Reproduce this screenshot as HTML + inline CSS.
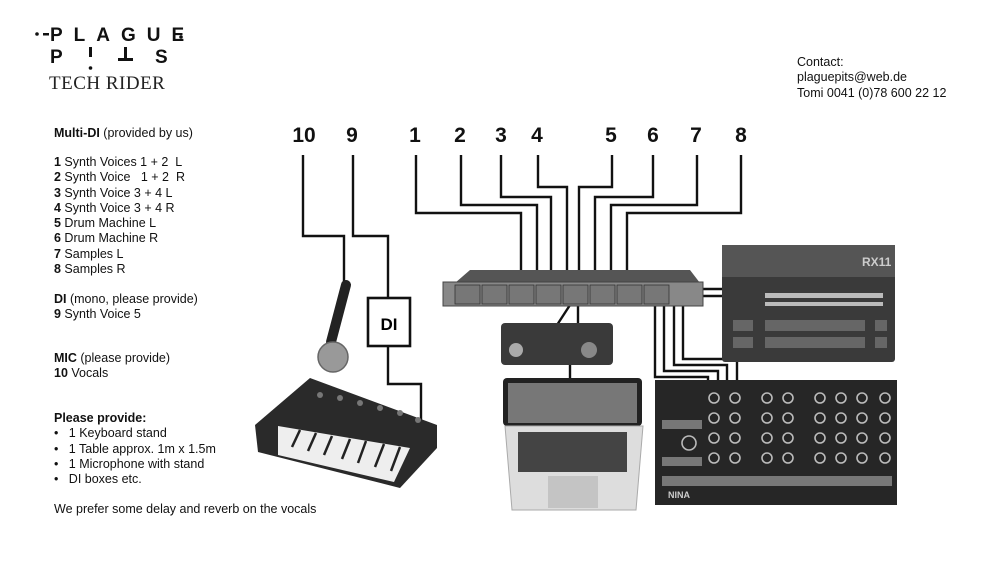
<!DOCTYPE html>
<html><head><meta charset="utf-8"><style>
body{margin:0;background:#fff;width:1000px;height:563px;overflow:hidden;position:relative;font-family:"Liberation Sans",Arial,sans-serif;color:#111}
.t{position:absolute;font-size:12.5px;line-height:15.3px;white-space:nowrap}
</style></head><body>
<svg width="1000" height="563" style="position:absolute;left:0;top:0" font-family="Liberation Sans, Arial, sans-serif">
<!-- logo -->
<g fill="#111" font-weight="bold" font-size="19">
<circle cx="37" cy="34" r="1.8"/><rect x="43" y="33" width="6" height="2.5"/>
<text x="50" y="41" letter-spacing="11">PLAGUE</text><circle cx="181" cy="37" r="1.8"/>
<text x="50" y="63" letter-spacing="0">P</text>
<rect x="89" y="47" width="3" height="10"/><circle cx="90.5" cy="68" r="1.8"/>
<rect x="124" y="47" width="3" height="14"/><rect x="118" y="58" width="15" height="3"/>
<text x="155" y="63">S</text>
</g>
<text x="49" y="89" font-family="Liberation Serif, serif" font-size="19" fill="#222" letter-spacing="0.5">TECH RIDER</text>
<!-- numbers -->
<g font-weight="bold" font-size="21" text-anchor="middle" fill="#111">
<text x="304" y="142">10</text><text x="352" y="142">9</text><text x="415" y="142">1</text><text x="460" y="142">2</text><text x="501" y="142">3</text><text x="537" y="142">4</text><text x="611" y="142">5</text><text x="653" y="142">6</text><text x="696" y="142">7</text><text x="741" y="142">8</text>
</g>
<g fill="none" stroke="#111" stroke-width="2.4">
<polyline points="416,155 416,213 521,213 521,270"/>
<polyline points="461,155 461,205 537,205 537,270"/>
<polyline points="501,155 501,197 551,197 551,270"/>
<polyline points="538,155 538,187 567,187 567,270"/>
<polyline points="612,155 612,187 579,187 579,270"/>
<polyline points="653,155 653,197 595,197 595,270"/>
<polyline points="697,155 697,205 611,205 611,270"/>
<polyline points="741,155 741,213 627,213 627,270"/>
<polyline points="303,155 303,236 344,236 344,285"/>
<polyline points="353,155 353,236 388,236 388,298"/>
<polyline points="388,346 388,384 421,384 421,420"/>
<line x1="570" y1="305" x2="557" y2="325"/><line x1="578" y1="305" x2="578" y2="325"/>
<line x1="570" y1="365" x2="570" y2="381"/>
<line x1="703" y1="289" x2="724" y2="289"/><line x1="703" y1="296" x2="724" y2="296"/>
<polyline points="655,306 655,377 708,377 708,384"/>
<polyline points="664,306 664,371 718,371 718,384"/>
<polyline points="674,306 674,365 727,365 727,384"/>
<polyline points="683,306 683,359 737,359 737,384"/>
</g>
<!-- DI -->
<rect x="368" y="298" width="42" height="48" fill="#fff" stroke="#111" stroke-width="2.6"/>
<text x="389" y="330" text-anchor="middle" font-weight="bold" font-size="17">DI</text>
<!-- mic -->
<line x1="346" y1="285" x2="331" y2="342" stroke="#222" stroke-width="10" stroke-linecap="round"/>
<circle cx="333" cy="357" r="15" fill="#999" stroke="#666" stroke-width="1.5"/>
<!-- keyboard -->
<polygon points="310,378 437,425 437,448 400,488 258,452 255,425" fill="#2a2a2a"/>
<polygon points="278,426 410,448 394,482 278,455" fill="#eee"/>
<g stroke="#222" stroke-width="2.5"><line x1="300" y1="430" x2="292" y2="447"/><line x1="316" y1="433" x2="308" y2="451"/><line x1="332" y1="436" x2="324" y2="455"/><line x1="350" y1="439" x2="342" y2="459"/><line x1="366" y1="441" x2="358" y2="463"/><line x1="384" y1="444" x2="375" y2="467"/><line x1="400" y1="447" x2="391" y2="471"/></g>
<g fill="#777"><circle cx="320" cy="395" r="3"/><circle cx="340" cy="398" r="3"/><circle cx="360" cy="403" r="3"/><circle cx="380" cy="408" r="3"/><circle cx="400" cy="413" r="3"/><circle cx="418" cy="420" r="3"/></g>
<!-- rack -->
<polygon points="455,283 470,270 690,270 700,283" fill="#555"/>
<rect x="443" y="282" width="260" height="24" fill="#888" stroke="#444"/>
<g fill="#777" stroke="#333" stroke-width="0.8">
<rect x="455" y="285" width="25" height="19"/><rect x="482" y="285" width="25" height="19"/><rect x="509" y="285" width="25" height="19"/><rect x="536" y="285" width="25" height="19"/><rect x="563" y="285" width="25" height="19"/><rect x="590" y="285" width="25" height="19"/><rect x="617" y="285" width="25" height="19"/><rect x="644" y="285" width="25" height="19"/></g>
<!-- interface -->
<rect x="501" y="323" width="112" height="42" rx="4" fill="#3a3a3a"/>
<circle cx="516" cy="350" r="7" fill="#aaa"/><circle cx="589" cy="350" r="8" fill="#888"/>
<!-- laptop -->
<rect x="503" y="378" width="139" height="48" rx="4" fill="#222"/>
<rect x="508" y="383" width="129" height="40" fill="#777"/>
<polygon points="505,426 643,426 636,510 512,510" fill="#ddd" stroke="#aaa"/>
<rect x="518" y="432" width="109" height="40" fill="#444"/>
<rect x="548" y="476" width="50" height="32" fill="#c4c4c4"/>
<!-- RX11 -->
<rect x="722" y="245" width="173" height="117" rx="3" fill="#3a3a3a"/>
<rect x="722" y="245" width="173" height="32" fill="#555"/>
<text x="862" y="266" font-size="12" font-weight="bold" fill="#ccc">RX11</text>
<g fill="#bbb"><rect x="765" y="293" width="118" height="5"/><rect x="765" y="302" width="118" height="4"/></g>
<g fill="#666"><rect x="733" y="320" width="20" height="11"/><rect x="733" y="337" width="20" height="11"/><rect x="765" y="320" width="100" height="11"/><rect x="765" y="337" width="100" height="11"/><rect x="875" y="320" width="12" height="11"/><rect x="875" y="337" width="12" height="11"/></g>
<!-- NINA -->
<rect x="655" y="380" width="242" height="125" fill="#262626"/>
<g fill="none" stroke="#bbb" stroke-width="1.6">
<circle cx="714" cy="398" r="5"/><circle cx="735" cy="398" r="5"/><circle cx="767" cy="398" r="5"/><circle cx="788" cy="398" r="5"/><circle cx="820" cy="398" r="5"/><circle cx="841" cy="398" r="5"/><circle cx="862" cy="398" r="5"/><circle cx="885" cy="398" r="5"/>
<circle cx="714" cy="418" r="5"/><circle cx="735" cy="418" r="5"/><circle cx="767" cy="418" r="5"/><circle cx="788" cy="418" r="5"/><circle cx="820" cy="418" r="5"/><circle cx="841" cy="418" r="5"/><circle cx="862" cy="418" r="5"/><circle cx="885" cy="418" r="5"/>
<circle cx="714" cy="438" r="5"/><circle cx="735" cy="438" r="5"/><circle cx="767" cy="438" r="5"/><circle cx="788" cy="438" r="5"/><circle cx="820" cy="438" r="5"/><circle cx="841" cy="438" r="5"/><circle cx="862" cy="438" r="5"/><circle cx="885" cy="438" r="5"/>
<circle cx="714" cy="458" r="5"/><circle cx="735" cy="458" r="5"/><circle cx="767" cy="458" r="5"/><circle cx="788" cy="458" r="5"/><circle cx="820" cy="458" r="5"/><circle cx="841" cy="458" r="5"/><circle cx="862" cy="458" r="5"/><circle cx="885" cy="458" r="5"/>
<circle cx="689" cy="443" r="7"/></g>
<g fill="#777"><rect x="662" y="476" width="230" height="10"/><rect x="662" y="457" width="40" height="9"/><rect x="662" y="420" width="40" height="9"/></g>
<text x="668" y="498" font-size="9" fill="#ccc" font-weight="bold">NINA</text>
</svg>
<div class="t" style="left:797px;top:55px">Contact:<br>plaguepits@web.de<br>Tomi 0041 (0)78 600 22 12</div>
<div class="t" style="left:54px;top:126px"><b>Multi-DI</b> (provided by us)</div>
<div class="t" style="left:54px;top:155px"><b>1</b> Synth Voices 1 + 2&nbsp; L<br><b>2</b> Synth Voice&nbsp;&nbsp; 1 + 2&nbsp; R<br><b>3</b> Synth Voice 3 + 4 L<br><b>4</b> Synth Voice 3 + 4 R<br><b>5</b> Drum Machine L<br><b>6</b> Drum Machine R<br><b>7</b> Samples L<br><b>8</b> Samples R</div>
<div class="t" style="left:54px;top:292px"><b>DI</b> (mono, please provide)<br><b>9</b> Synth Voice 5</div>
<div class="t" style="left:54px;top:351px"><b>MIC</b> (please provide)<br><b>10</b> Vocals</div>
<div class="t" style="left:54px;top:411px"><b>Please provide:</b><br>•&nbsp;&nbsp; 1 Keyboard stand<br>•&nbsp;&nbsp; 1 Table approx. 1m x 1.5m<br>•&nbsp;&nbsp; 1 Microphone with stand<br>•&nbsp;&nbsp; DI boxes etc.</div>
<div class="t" style="left:54px;top:502px">We prefer some delay and reverb on the vocals</div>
</body></html>
